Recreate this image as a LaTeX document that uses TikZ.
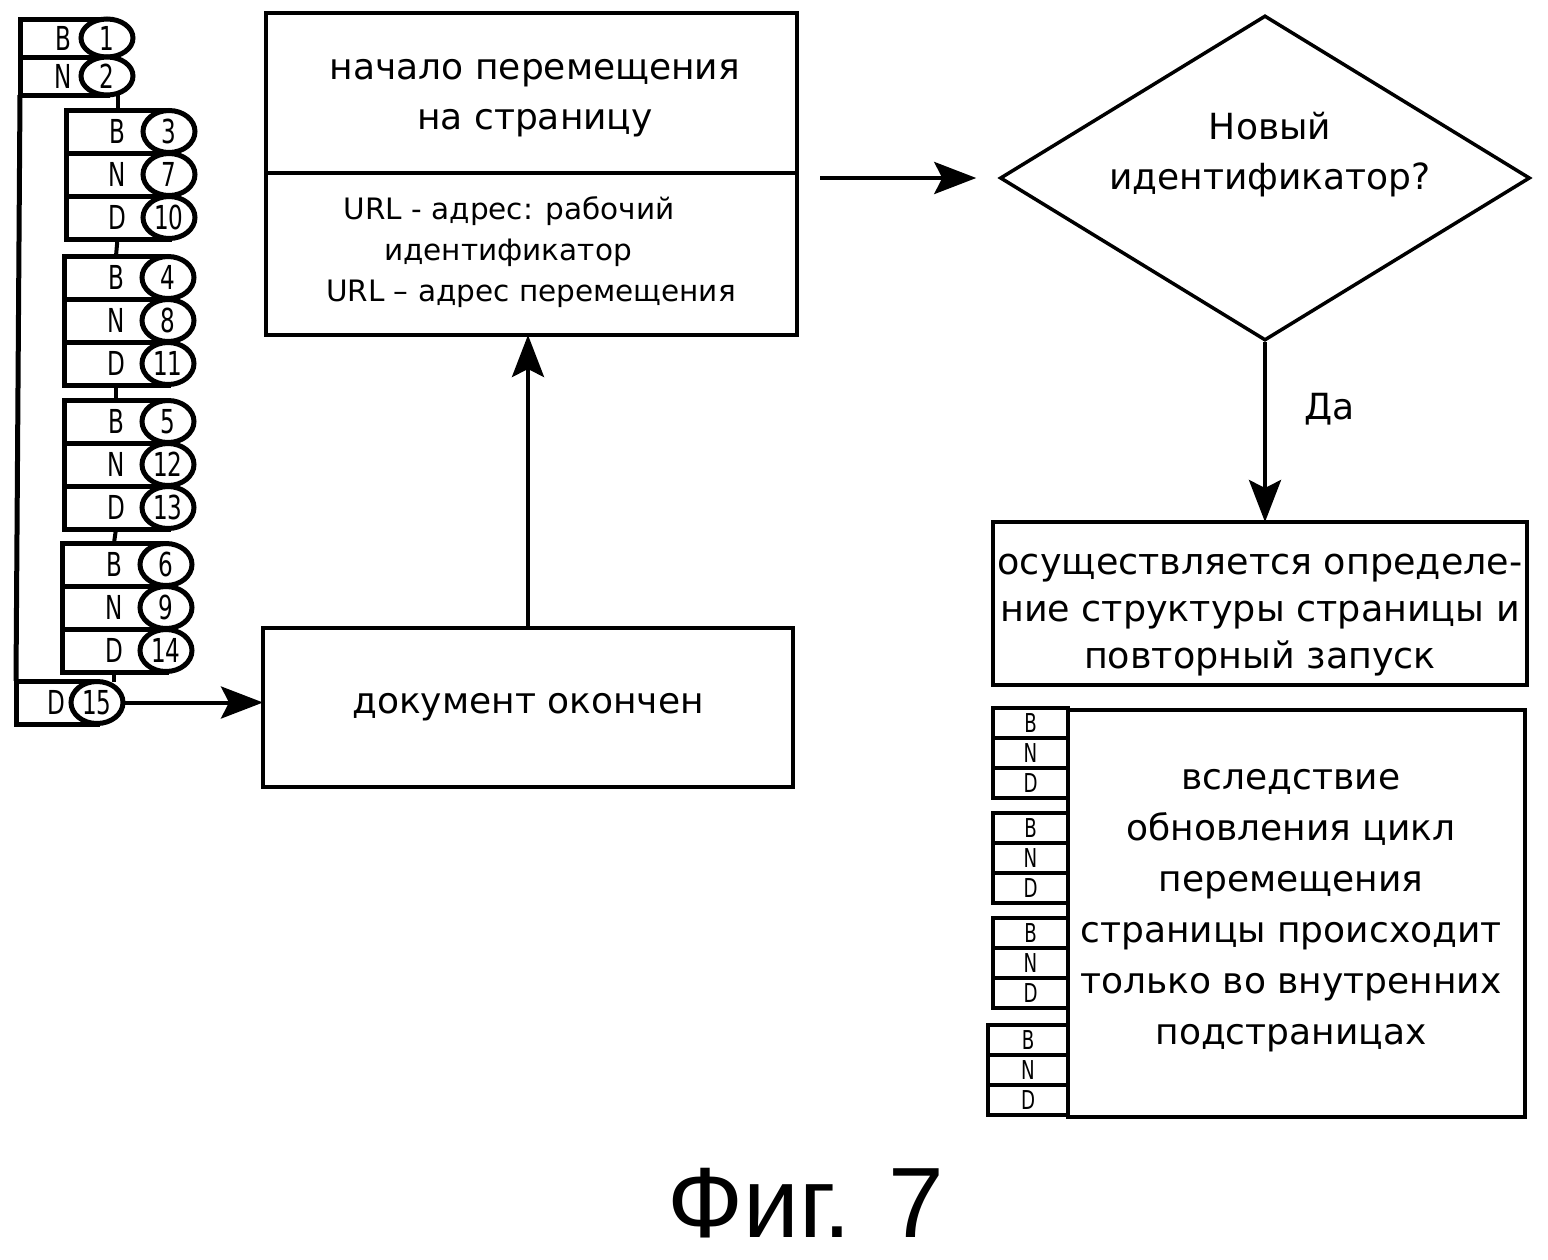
\documentclass[tikz,border=0pt]{standalone}
\usepackage{fontspec}
\setmainfont{DejaVu Sans}
\newfontfamily\tabfont{DejaVu Sans}[FakeStretch=0.7]
\newfontfamily\figfont{Liberation Sans}
\usepackage{tikz}
\usetikzlibrary{shapes.geometric}
\usetikzlibrary{arrows.meta}
\usetikzlibrary{positioning}

\tikzset{
  box/.style={draw, line width=4.5pt, rectangle, inner sep=0pt, outer sep=0pt},
  boxtext/.style={inner sep=0pt, align=center, font=\fontsize{36pt}{50pt}\selectfont},
  tabrow/.style={draw, line width=5pt, rectangle, inner sep=0pt, outer sep=0pt,
    minimum height=43pt, font=\tabfont\fontsize{33pt}{33pt}\selectfont},
  tabnum/.style={draw, line width=5pt, ellipse, fill=white, inner sep=0pt, outer sep=0pt,
    minimum width=52pt, minimum height=42pt, font=\tabfont\fontsize{33pt}{33pt}\selectfont},
  smalltab/.style={draw, line width=4.5pt, rectangle, inner sep=0pt, outer sep=0pt,
    minimum width=75pt, minimum height=30pt, font=\tabfont\fontsize{26pt}{26pt}\selectfont},
  flow/.style={->, line width=4pt},
  >={Stealth[length=42pt, width=32pt, inset=8pt]}
}

\begin{document}
\begin{tikzpicture}[x=1pt, y=-1pt]
  \useasboundingbox (0,0) rectangle (1548,1259);

  \node[tabrow, minimum width=87pt, minimum height=38pt, anchor=north west] (b1) at (20,19) {B};
  \node[tabrow, minimum width=87pt, minimum height=38pt, below=0pt of b1] (n2) {N};

  \node[tabrow, minimum width=103pt, anchor=north west] (b3) at (66,110) {B};
  \node[tabrow, minimum width=103pt, below=0pt of b3] (n7) {N};
  \node[tabrow, minimum width=103pt, below=0pt of n7] (d10) {D};

  \node[tabrow, minimum width=104pt, anchor=north west] (b4) at (64,256) {B};
  \node[tabrow, minimum width=104pt, below=0pt of b4] (n8) {N};
  \node[tabrow, minimum width=104pt, below=0pt of n8] (d11) {D};

  \node[tabrow, minimum width=104pt, anchor=north west] (b5) at (64,400) {B};
  \node[tabrow, minimum width=104pt, below=0pt of b5] (n12) {N};
  \node[tabrow, minimum width=104pt, below=0pt of n12] (d13) {D};

  \node[tabrow, minimum width=104pt, anchor=north west] (b6) at (62,543) {B};
  \node[tabrow, minimum width=104pt, below=0pt of b6] (n9) {N};
  \node[tabrow, minimum width=104pt, below=0pt of n9] (d14) {D};

  \node[tabrow, minimum width=81pt, anchor=north west] (d15) at (16,681) {D};

  \node[tabnum, minimum height=38pt] (o1) at (b1.east) {1};
  \node[tabnum, minimum height=38pt] (o2) at (n2.east) {2};
  \node[tabnum] (o3) at (b3.east) {3};
  \node[tabnum] (o7) at (n7.east) {7};
  \node[tabnum] (o10) at (d10.east) {10};
  \node[tabnum] (o4) at (b4.east) {4};
  \node[tabnum] (o8) at (n8.east) {8};
  \node[tabnum] (o11) at (d11.east) {11};
  \node[tabnum] (o5) at (b5.east) {5};
  \node[tabnum] (o12) at (n12.east) {12};
  \node[tabnum] (o13) at (d13.east) {13};
  \node[tabnum] (o6) at (b6.east) {6};
  \node[tabnum] (o9) at (n9.east) {9};
  \node[tabnum] (o14) at (d14.east) {14};
  \node[tabnum] (o15) at (d15.east) {15};

  \draw[line width=4pt] (b3.north) -- (b3.north |- o2.south);
  \draw[line width=4pt] (d10.south) -- (b4.north);
  \draw[line width=4pt] (d11.south) -- (b5.north);
  \draw[line width=4pt] (d13.south) -- (b6.north);
  \draw[line width=4pt] (d14.south) -- (d14.south |- o15.north);
  \draw[line width=5pt] (n2.south west) -- (d15.north west);

  \node[box, minimum width=531pt, minimum height=322pt, anchor=north west] (start) at (266,13) {};
  \draw[line width=4.5pt] ([yshift=-160pt]start.north west) -- ([yshift=-160pt]start.north east);
  \node[boxtext] (starttitle) at (535,98) {начало перемещения\\на страницу};
  \node[boxtext, font=\fontsize{29.5pt}{41pt}\selectfont] (startinfo) at (531,252)
    {URL - адрес: рабочий\rule{44pt}{0pt}\\идентификатор\rule{46pt}{0pt}\\URL – адрес перемещения};

  \node[box, boxtext, minimum width=530pt, minimum height=159pt] (doc) at (528,707.5) {документ окончен};

  \node[draw, diamond, line width=3.5pt, inner sep=0pt, aspect=1.63,
    minimum width=530pt, minimum height=325pt] (newid) at (1265,178) {};
  \node[boxtext] (newidtext) at (1270,155) {Новый\\идентификатор?};

  \node[box, minimum width=534pt, minimum height=163pt] (restart) at (1260,603.5) {};
  \node[boxtext, font=\fontsize{36.5pt}{47pt}\selectfont] (restarttext) at (1260,615)
    {осуществляется определе-\\ние структуры страницы и\\повторный запуск};

  \node[box, minimum width=457pt, minimum height=407pt] (update) at (1296.5,913.5) {};
  \node[boxtext, font=\fontsize{36pt}{51pt}\selectfont] (updatetext) at (1291,911)
    {вследствие\\обновления цикл\\перемещения\\страницы происходит\\только во внутренних\\подстраницах};

  \node[smalltab, anchor=north west] (ub1) at (993,708) {B};
  \node[smalltab, below=0pt of ub1] (un1) {N};
  \node[smalltab, below=0pt of un1] (ud1) {D};
  \node[smalltab, anchor=north west] (ub2) at (993,813) {B};
  \node[smalltab, below=0pt of ub2] (un2) {N};
  \node[smalltab, below=0pt of un2] (ud2) {D};
  \node[smalltab, anchor=north west] (ub3) at (993,918) {B};
  \node[smalltab, below=0pt of ub3] (un3) {N};
  \node[smalltab, below=0pt of un3] (ud3) {D};
  \node[smalltab, minimum width=80pt, anchor=north west] (ub4) at (988,1025) {B};
  \node[smalltab, minimum width=80pt, below=0pt of ub4] (un4) {N};
  \node[smalltab, minimum width=80pt, below=0pt of un4] (ud4) {D};

  \draw[flow] (o15.east) -- (o15.east -| doc.west);
  \draw[flow] (doc.north) -- (doc.north |- start.south);
  \draw[flow, shorten <=23pt, shorten >=22pt] (start.east |- newid.west) -- (newid.west);
  \draw[flow] (newid.south) -- node[pos=0.37, right=37pt, boxtext] {Да} (newid.south |- restart.north);

  \node[font=\figfont\fontsize{100pt}{100pt}\selectfont] (figlabel) at (806,1203) {Фиг. 7};
\end{tikzpicture}
\end{document}
